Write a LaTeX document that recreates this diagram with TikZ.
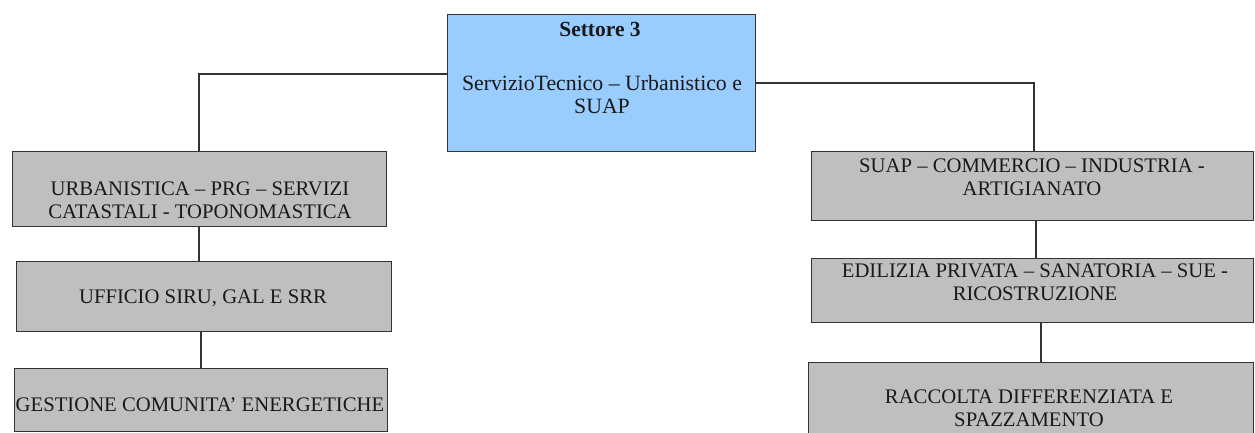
\documentclass[tikz,border=0pt]{standalone}
\usepackage{fontspec}
\setmainfont{Liberation Serif}
\begin{document}
\begin{tikzpicture}[x=1pt,y=-1pt,
  box/.style={draw=black!80, line width=1.2pt, anchor=north west, inner sep=0pt},
  gbox/.style={box, fill=gray!50},
  bbox/.style={box, fill={rgb,255:red,153;green,204;blue,255}},
  txt/.style={font=\fontsize{20.7}{22.5}\selectfont, align=center, inner sep=0pt, text=black!90},
  conn/.style={draw=black!80, line width=1.2pt}]
\useasboundingbox (0,0) rectangle (1255,432);
\clip (0,0) rectangle (1255,432);

% head office
\node[bbox, minimum width=308pt, minimum height=137pt] (top) at (447,14) {};
\node[txt, font=\fontsize{21.5}{22.5}\selectfont\bfseries] (topa) at (600,29) {Settore 3};
\node[txt, font=\fontsize{21.8}{23}\selectfont] (topb) at (602,95) {ServizioTecnico – Urbanistico e\\SUAP};

% left branch
\node[gbox, minimum width=374pt, minimum height=75pt] (l1) at (12,151) {};
\node[txt] (l1t) at (200,200) {URBANISTICA – PRG – SERVIZI\\CATASTALI - TOPONOMASTICA};
\node[gbox, minimum width=375pt, minimum height=70pt] (l2) at (16,261) {};
\node[txt] (l2t) at (203,298) {UFFICIO SIRU, GAL E SRR};
\node[gbox, minimum width=373pt, minimum height=63pt] (l3) at (14,368) {};
\node[txt] (l3t) at (200,405) {GESTIONE COMUNITA’ ENERGETICHE};

% right branch
\node[gbox, minimum width=442pt, minimum height=69pt] (r1) at (811,151) {};
\node[txt] (r1t) at (1032,177) {SUAP – COMMERCIO – INDUSTRIA -\\ARTIGIANATO};
\node[gbox, minimum width=442pt, minimum height=64pt] (r2) at (811,258) {};
\node[txt] (r2t) at (1035,282) {EDILIZIA PRIVATA – SANATORIA – SUE -\\RICOSTRUZIONE};
\node[gbox, minimum width=445pt, minimum height=90pt] (r3) at (808,362) {};
\node[txt] (r3t) at (1029,408) {RACCOLTA DIFFERENZIATA E\\SPAZZAMENTO};

% connector columns and rows
\coordinate (hl) at (0,74);
\coordinate (hr) at (0,83);
\coordinate (vl1) at (199,0);
\coordinate (vl2) at (199,0);
\coordinate (vl3) at (201,0);
\coordinate (vr1) at (1034,0);
\coordinate (vr2) at (1036,0);
\coordinate (vr3) at (1041,0);

\draw[conn] (top.west |- hl) -| (l1.north -| vl1);
\draw[conn] (top.east |- hr) -| (r1.north -| vr1);
\draw[conn] (l1.south -| vl2) -- (l2.north -| vl2);
\draw[conn] (l2.south -| vl3) -- (l3.north -| vl3);
\draw[conn] (r1.south -| vr2) -- (r2.north -| vr2);
\draw[conn] (r2.south -| vr3) -- (r3.north -| vr3);
\end{tikzpicture}
\end{document}
